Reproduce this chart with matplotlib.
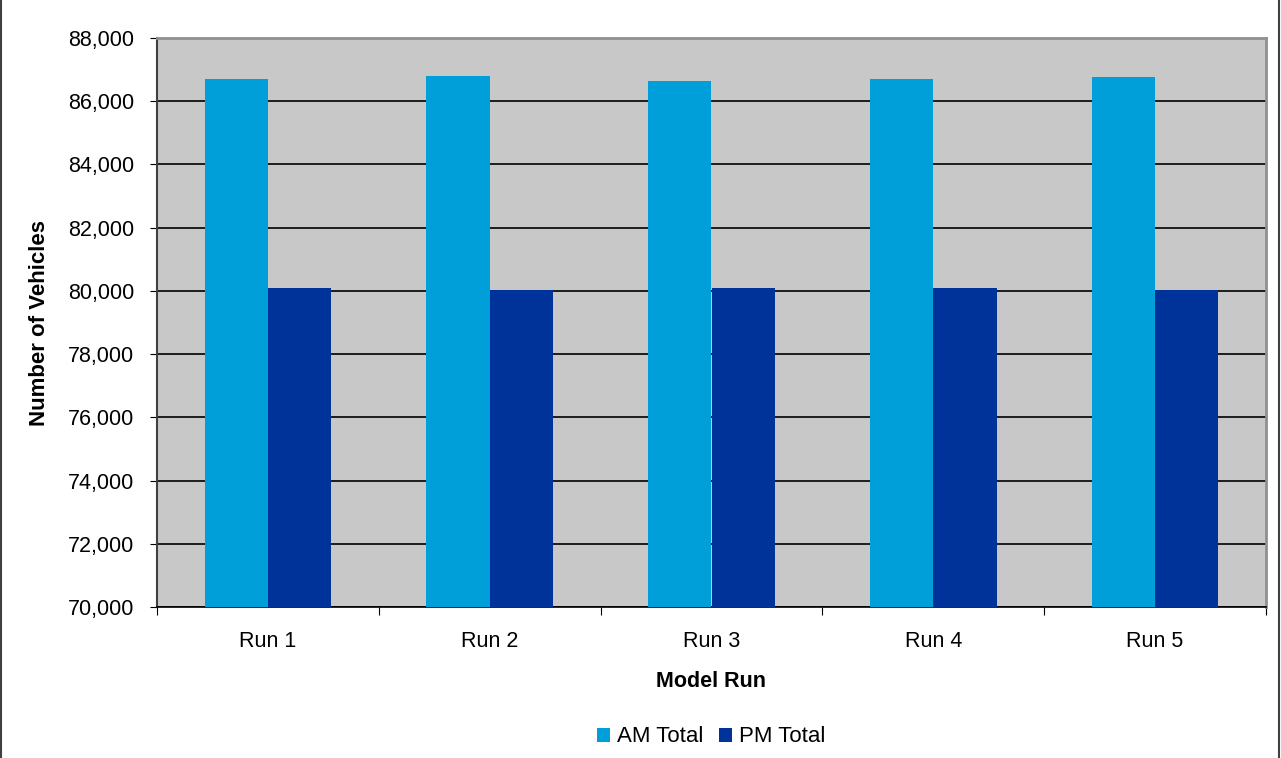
import matplotlib.pyplot as plt
import numpy as np
from matplotlib.lines import Line2D
from matplotlib.ticker import FuncFormatter

runs = ['Run 1', 'Run 2', 'Run 3', 'Run 4', 'Run 5']
am_total = [86700, 86800, 86640, 86700, 86770]
pm_total = [80100, 80040, 80100, 80100, 80040]

plt.rcParams['font.family'] = ['Liberation Sans', 'DejaVu Sans']

fig = plt.figure(figsize=(12.81, 7.58), dpi=100)
ax = fig.add_axes([157 / 1281, 1 - 607 / 758, (1266 - 157) / 1281, (607 - 38) / 758])
ax.set_facecolor('#c8c8c8')

x = np.arange(len(runs))
w = 1 / 3.5
ax.bar(x - w / 2, am_total, w, color='#009fda', label='AM Total', zorder=3)
ax.bar(x + w / 2, pm_total, w, color='#003399', label='PM Total', zorder=3)

ax.set_ylim(70000, 88000)
ax.set_xlim(-0.5, len(runs) - 0.5)
ax.set_yticks(np.arange(70000, 88001, 2000))
ax.yaxis.set_major_formatter(FuncFormatter(lambda v, p: f'{v:,.0f}'))
ax.grid(axis='y', color='black', linewidth=1.2, zorder=1)

ax.set_xticks(np.arange(-0.5, len(runs)), [''] * (len(runs) + 1))
ax.set_xticks(x, runs, minor=True)
ax.tick_params(axis='x', which='minor', length=0, pad=17, labelsize=15.5)
ax.tick_params(axis='x', which='major', length=6, direction='out', color='black')
ax.tick_params(axis='y', length=5, direction='out', labelsize=15.5, pad=11.5)

for s in ['top', 'right']:
    ax.spines[s].set_color('#909090')
    ax.spines[s].set_linewidth(2)
ax.spines['left'].set_color('#404040')
ax.spines['left'].set_linewidth(1.5)
ax.spines['bottom'].set_color('black')
ax.spines['bottom'].set_linewidth(1.2)

ax.set_xlabel('Model Run', fontsize=15.5, fontweight='bold', labelpad=14)
ax.set_ylabel('Number of Vehicles', fontsize=16, fontweight='bold', labelpad=13)

fig.legend(loc='center', bbox_to_anchor=(711 / 1281, 1 - 737 / 758), ncol=2,
           frameon=False, fontsize=16, handlelength=0.6, handleheight=0.6,
           handletextpad=0.3, columnspacing=0.7)

# outer chart border (left and right edges only visible)
fig.lines.append(Line2D([0.001, 0.001], [0, 1], transform=fig.transFigure,
                        color='#404040', linewidth=1.5))
fig.lines.append(Line2D([1279 / 1281, 1279 / 1281], [0, 1], transform=fig.transFigure,
                        color='#404040', linewidth=1.5))

fig.savefig('out.png', dpi=100)
